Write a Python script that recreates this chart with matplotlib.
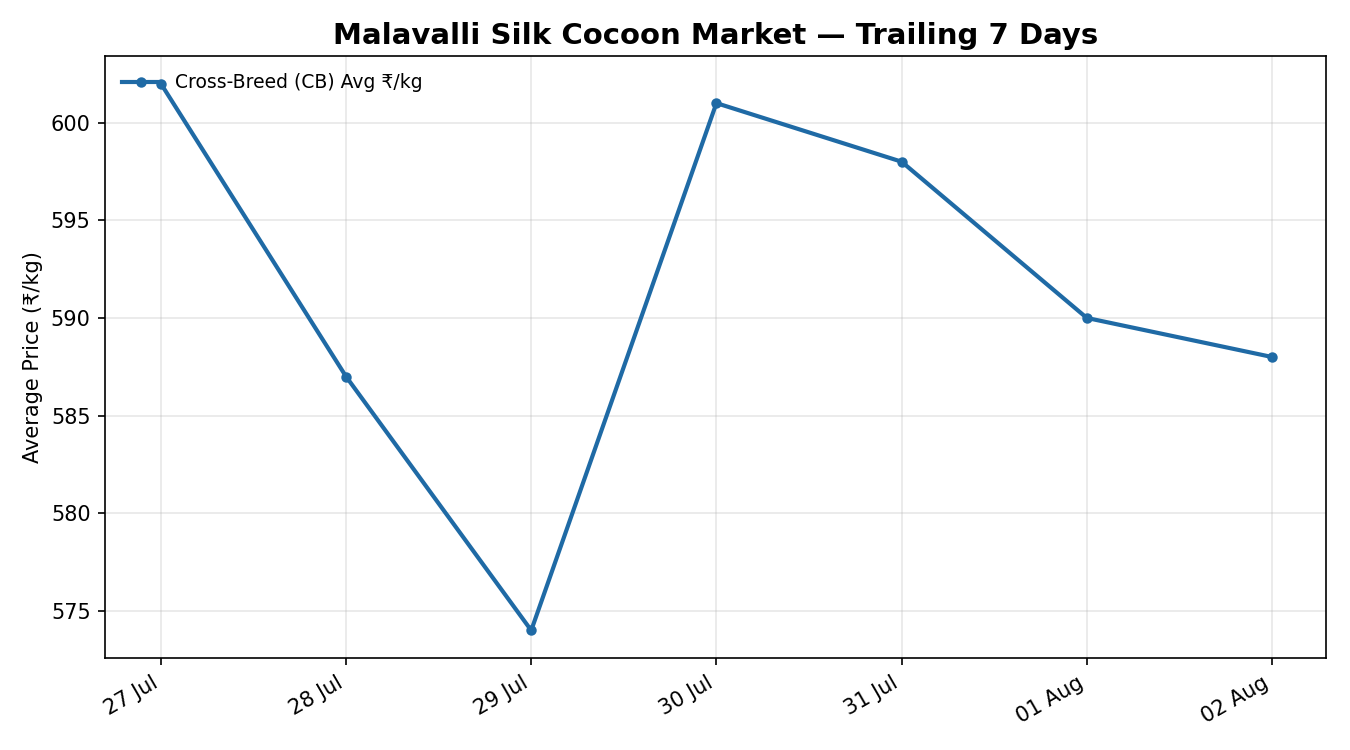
import matplotlib
matplotlib.use("Agg")
import matplotlib.pyplot as plt

# Prix moyen des cocons CB sur 7 jours
jours = ["27 Jul", "28 Jul", "29 Jul", "30 Jul", "31 Jul", "01 Aug", "02 Aug"]
prix_cb = [602, 587, 574, 601, 598, 590, 588]

fig, ax = plt.subplots(figsize=(9, 5), dpi=150)
ax.plot(jours, prix_cb, marker='o', markersize=4, linewidth=2, color="#1f6aa5",
        label="Cross-Breed (CB) Avg ₹/kg")
ax.set_title("Malavalli Silk Cocoon Market — Trailing 7 Days", fontsize=14, fontweight="bold")
ax.set_ylabel("Average Price (₹/kg)")
ax.set_yticks([575, 580, 585, 590, 595, 600])
ax.set_ylim(572.6, 603.4)
ax.set_xlim(-0.3, 6.29)
ax.grid(True, alpha=0.3)
ax.legend(loc="upper left", frameon=False, fontsize=9)
fig.autofmt_xdate()
fig.subplots_adjust(left=0.078, right=0.982, top=0.925, bottom=0.123)
fig.savefig("out.png")
